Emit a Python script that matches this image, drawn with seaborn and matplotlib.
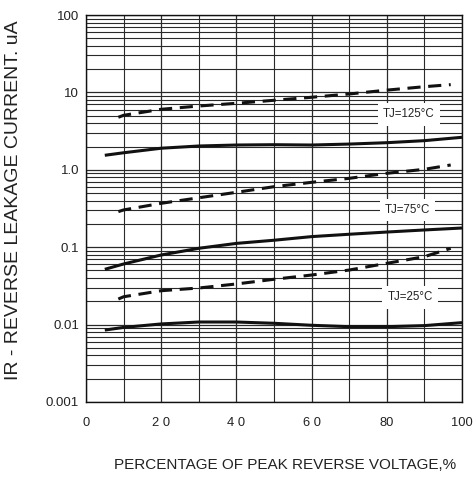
import numpy as np
import pandas as pd
import matplotlib
matplotlib.use("Agg")
import matplotlib.pyplot as plt
import seaborn as sns
from matplotlib.ticker import FixedLocator, LogLocator, NullFormatter

# ---- data ----
x_solid = [5, 10, 20, 30, 40, 50, 60, 70, 80, 90, 100]
x_dash = [8.6, 10, 20, 30, 40, 50, 60, 70, 80, 90, 97]

ir_125_solid = [1.54, 1.66, 1.90, 2.03, 2.09, 2.11, 2.09, 2.15, 2.24, 2.38, 2.63]
ir_125_dash = [4.77, 5.06, 6.05, 6.67, 7.23, 7.91, 8.65, 9.54, 10.7, 11.85, 12.6]
ir_75_solid = [0.0518, 0.0607, 0.0793, 0.0968, 0.112, 0.123, 0.137, 0.147, 0.157, 0.167, 0.177]
ir_75_dash = [0.288, 0.303, 0.369, 0.435, 0.512, 0.605, 0.689, 0.776, 0.901, 1.015, 1.154]
ir_25_solid = [0.0085, 0.0092, 0.0102, 0.0108, 0.0108, 0.0104, 0.0098, 0.0094, 0.0094, 0.0097, 0.0106]
ir_25_dash = [0.0214, 0.0229, 0.0274, 0.0297, 0.0335, 0.0385, 0.0437, 0.0507, 0.0619, 0.0754, 0.0968]

x_ticks = [0, 20, 40, 60, 80, 100]
x_ticklabels = ["0", "2 0", "4 0", "6 0", "80", "100"]
y_ticks = [0.001, 0.01, 0.1, 1.0, 10, 100]
y_ticklabels = ["0.001", "0.01", "0.1", "1.0", "10", "100"]

labels = ["TJ=125\u00b0C", "TJ=75\u00b0C", "TJ=25\u00b0C"]
label_x = [85.8, 85.5, 86.2]
label_y = [5.21, 0.303, 0.0225]

# ---- frame ----
rows = []
for name, xs, ys in [("125s", x_solid, ir_125_solid), ("125d", x_dash, ir_125_dash),
                     ("75s", x_solid, ir_75_solid), ("75d", x_dash, ir_75_dash),
                     ("25s", x_solid, ir_25_solid), ("25d", x_dash, ir_25_dash)]:
    for a, b in zip(xs, ys):
        rows.append({"series": name, "pct": a, "ir": b})
df = pd.DataFrame(rows)

sns.set_style("white")
plt.rcParams["font.family"] = ["Liberation Sans", "DejaVu Sans"]

fig = plt.figure(figsize=(4.77, 4.84), dpi=100)
ax = fig.add_axes([86 / 477, 1 - 402 / 484, 376 / 477, 387 / 484])

for name in df["series"].unique():
    sub = df[df["series"] == name]
    dashed = name.endswith("d")
    sns.lineplot(data=sub, x="pct", y="ir", ax=ax, color="#111111",
                 lw=2.2, estimator=None, sort=True, legend=False)
    ln = ax.lines[-1]
    if dashed:
        ln.set_dashes([4.3, 2.5])
        ln.set_dash_capstyle("butt")
    ln.set_solid_capstyle("butt")
    ln.set_solid_joinstyle("round")
    ln.set_zorder(4)

ax.set_yscale("log")
ax.set_xlim(0, 100)
ax.set_ylim(0.001, 100)

ax.set_xticks(x_ticks)
ax.set_xticklabels(x_ticklabels)
ax.xaxis.set_minor_locator(FixedLocator(list(range(10, 100, 20))))
ax.set_yticks(y_ticks)
ax.set_yticklabels(y_ticklabels)
ax.yaxis.set_minor_locator(LogLocator(base=10, subs=np.arange(2, 10), numticks=20))
ax.yaxis.set_minor_formatter(NullFormatter())

ax.grid(True, which="major", color="#2a2a2a", lw=0.9)
ax.grid(True, which="minor", color="#2a2a2a", lw=0.8)
ax.set_axisbelow(True)
ax.tick_params(axis="both", which="both", length=0)
ax.tick_params(axis="x", pad=11, labelsize=9.3, colors="#222222")
ax.tick_params(axis="y", pad=5, labelsize=9.5, colors="#222222")
for s in ax.spines.values():
    s.set_color("#111111")
    s.set_linewidth(1.0)

ax.set_xlabel("")
ax.set_ylabel("")

for t, lx, ly in zip(labels, label_x, label_y):
    ax.text(lx, ly, t, fontsize=8.3, ha="center", va="center", color="#222222",
            zorder=5,
            bbox=dict(boxstyle="square,pad=0.45", fc="white", ec="none"))

fig.text(14 / 477, 1 - 200 / 484, "IR - REVERSE LEAKAGE CURRENT. uA", rotation=90,
         ha="center", va="center", fontsize=14, color="#222222")
fig.text(285 / 477, 1 - 465 / 484, "PERCENTAGE OF PEAK REVERSE VOLTAGE,%",
         ha="center", va="center", fontsize=11, color="#222222")

fig.savefig("out.png", dpi=100)
